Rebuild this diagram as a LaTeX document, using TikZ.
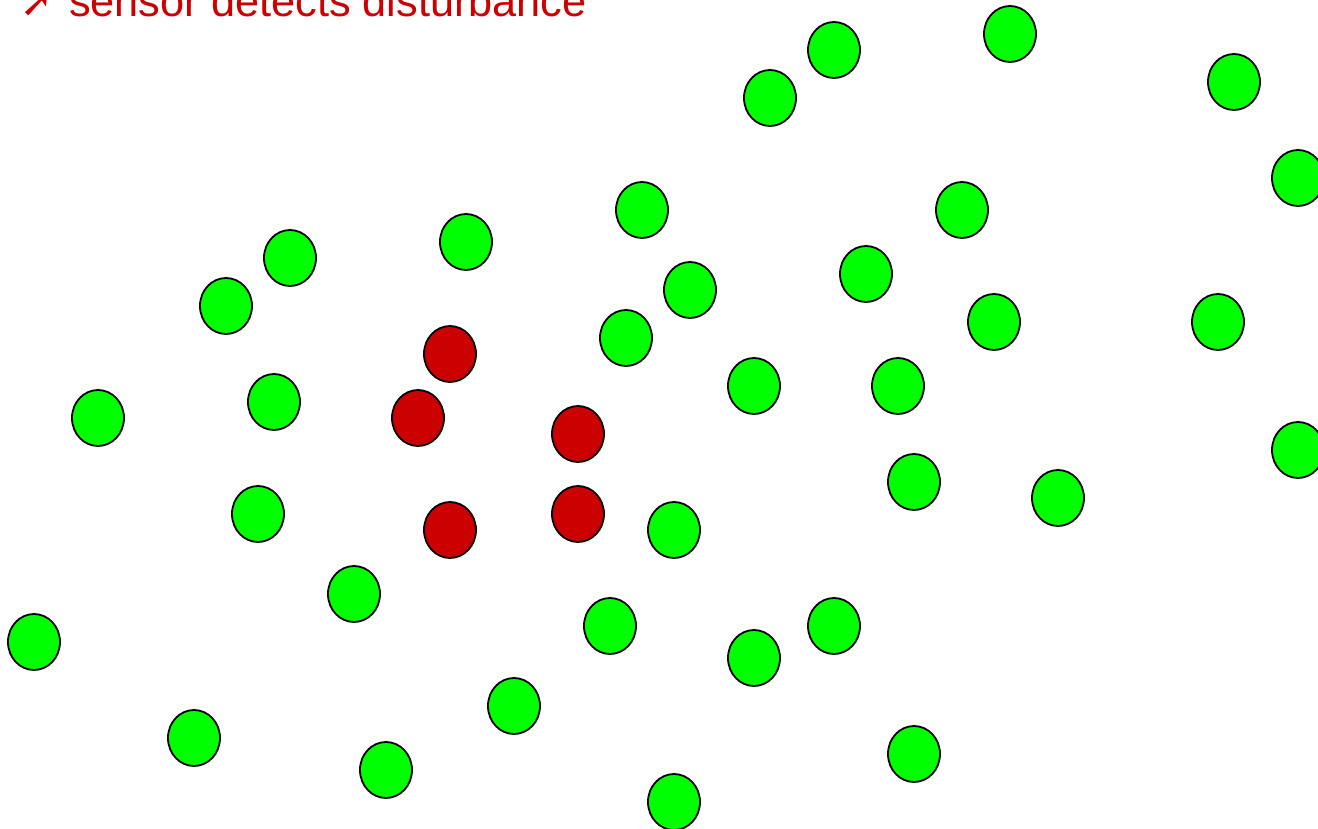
\documentclass[tikz,border=0pt]{standalone}
\usepackage{fontspec}
\usetikzlibrary{shapes.geometric}
\setmainfont{Liberation Sans}
\newfontfamily\symfont{DejaVu Sans}
\definecolor{sgreen}{HTML}{00FF00}
\definecolor{sred}{HTML}{CC0000}
\begin{document}
\begin{tikzpicture}[x=1pt,y=-1pt,
  sensor/.style={ellipse,draw=black,line width=1.8pt,minimum width=52pt,minimum height=56pt,inner sep=0pt},
  ok/.style={sensor,fill=sgreen},
  hit/.style={sensor,fill=sred},
  caption/.style={text=sred,font=\fontsize{43.3}{50}\selectfont,inner sep=0pt,anchor=base west}]
\useasboundingbox (0,0) rectangle (1318,829);
\node[caption] (title) at (69,16.5) {sensor detects disturbance};
\node[text=sred,font=\symfont\fontsize{40}{44}\selectfont,inner sep=0pt,anchor=base west] (arrow) at (20,17) {➚};
\foreach \x/\y [count=\i] in {834/50,1010/34,1234/82,770/98,1298/178,642/210,962/210,466/242,290/258,226/306,690/290,866/274,626/338,994/322,1218/322,754/386,898/386,98/418,274/402,1298/450,914/482,1058/498,258/514,674/530,354/594,34/642,610/626,834/626,754/658,514/706,194/738,386/770,914/754,674/802}
  \node[ok] (g\i) at (\x,\y) {};
\foreach \x/\y [count=\i] in {450/354,418/418,578/434,450/530,578/514}
  \node[hit] (r\i) at (\x,\y) {};
\end{tikzpicture}
\end{document}
